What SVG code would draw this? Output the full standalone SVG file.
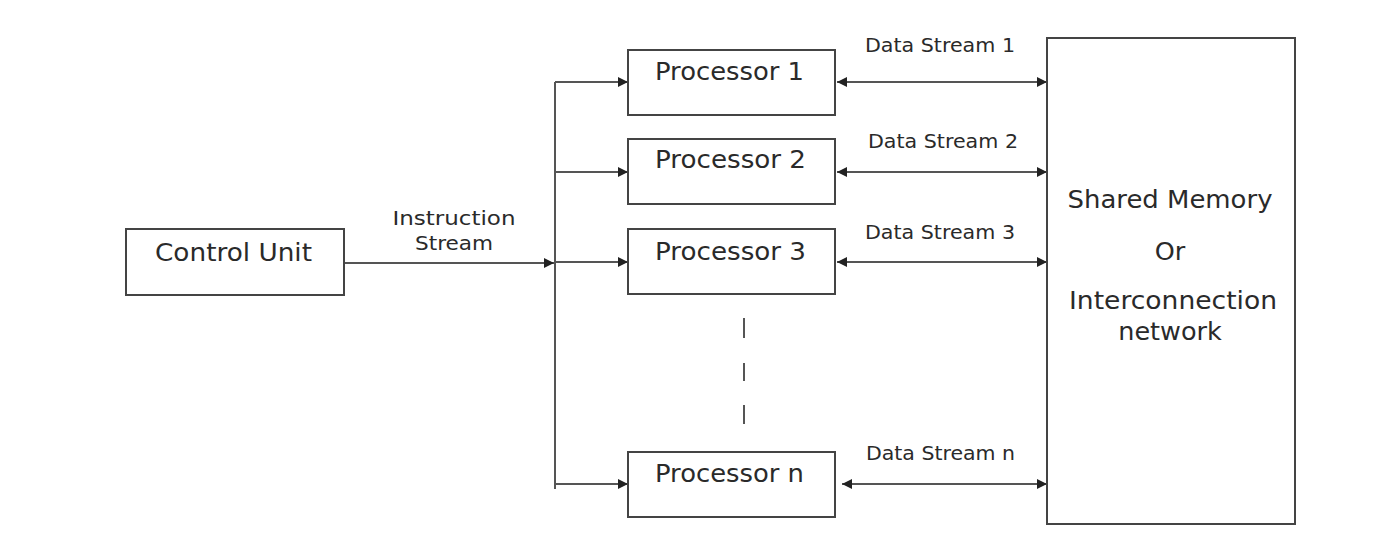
<svg xmlns="http://www.w3.org/2000/svg" width="1400" height="537" viewBox="0 0 1400 537">
<style>
.box{fill:#fff;stroke:#444;stroke-width:2}
.ln{fill:none;stroke:#555;stroke-width:2}
.t{font-family:"DejaVu Sans",Verdana,sans-serif;fill:#2a2a2a}
.big{font-size:25.5px}
.sm{font-size:20px}
.mid{text-anchor:middle}
</style>
<defs>
<marker id="ah" viewBox="0 0 10 10" refX="10" refY="5" markerWidth="10" markerHeight="10" markerUnits="userSpaceOnUse" orient="auto-start-reverse">
<path d="M0,0 L10,5 L0,10 z" fill="#222"/>
</marker>
</defs>
<rect width="1400" height="537" fill="#fff"/>
<g id="connectors">
<line class="ln" x1="344" y1="263" x2="554" y2="263" marker-end="url(#ah)"/>
<line class="ln" x1="555" y1="82" x2="555" y2="489"/>
<line class="ln" x1="555" y1="82" x2="628" y2="82" marker-end="url(#ah)"/>
<line class="ln" x1="555" y1="172" x2="628" y2="172" marker-end="url(#ah)"/>
<line class="ln" x1="555" y1="262" x2="628" y2="262" marker-end="url(#ah)"/>
<line class="ln" x1="555" y1="484" x2="628" y2="484" marker-end="url(#ah)"/>
<line class="ln" x1="837" y1="82" x2="1047" y2="82" marker-start="url(#ah)" marker-end="url(#ah)"/>
<line class="ln" x1="837" y1="172" x2="1047" y2="172" marker-start="url(#ah)" marker-end="url(#ah)"/>
<line class="ln" x1="837" y1="262" x2="1047" y2="262" marker-start="url(#ah)" marker-end="url(#ah)"/>
<line class="ln" x1="842" y1="484" x2="1047" y2="484" marker-start="url(#ah)" marker-end="url(#ah)"/>
<line class="ln" x1="744" y1="318" x2="744" y2="338"/>
<line class="ln" x1="744" y1="363" x2="744" y2="381"/>
<line class="ln" x1="744" y1="405" x2="744" y2="424"/>
<text class="t sm mid" x="454" y="225" textLength="123" lengthAdjust="spacingAndGlyphs">Instruction</text>
<text class="t sm mid" x="454" y="250" textLength="78" lengthAdjust="spacingAndGlyphs">Stream</text>
<text class="t sm" x="865" y="52" textLength="150" lengthAdjust="spacingAndGlyphs">Data Stream 1</text>
<text class="t sm" x="868" y="148" textLength="150" lengthAdjust="spacingAndGlyphs">Data Stream 2</text>
<text class="t sm" x="865" y="239" textLength="150" lengthAdjust="spacingAndGlyphs">Data Stream 3</text>
<text class="t sm" x="866" y="460" textLength="149" lengthAdjust="spacingAndGlyphs">Data Stream n</text>
</g>
<g id="control-unit">
<rect class="box" x="126" y="229" width="218" height="66"/>
<text class="t big" x="155" y="261" textLength="157" lengthAdjust="spacingAndGlyphs">Control Unit</text>
</g>
<g id="processor-1">
<rect class="box" x="628" y="50" width="207" height="65"/>
<text class="t big" x="655" y="80" textLength="149" lengthAdjust="spacingAndGlyphs">Processor 1</text>
</g>
<g id="processor-2">
<rect class="box" x="628" y="139" width="207" height="65"/>
<text class="t big" x="655" y="168" textLength="151" lengthAdjust="spacingAndGlyphs">Processor 2</text>
</g>
<g id="processor-3">
<rect class="box" x="628" y="229" width="207" height="65"/>
<text class="t big" x="655" y="260" textLength="151" lengthAdjust="spacingAndGlyphs">Processor 3</text>
</g>
<g id="processor-n">
<rect class="box" x="628" y="452" width="207" height="65"/>
<text class="t big" x="655" y="482" textLength="149" lengthAdjust="spacingAndGlyphs">Processor n</text>
</g>
<g id="shared-memory">
<rect class="box" x="1047" y="38" width="248" height="486"/>
<text class="t big mid" x="1170" y="208" textLength="205" lengthAdjust="spacingAndGlyphs">Shared Memory</text>
<text class="t big mid" x="1170" y="260">Or</text>
<text class="t big mid" x="1173" y="309" textLength="208" lengthAdjust="spacingAndGlyphs">Interconnection</text>
<text class="t big mid" x="1170" y="340">network</text>
</g>
</svg>
